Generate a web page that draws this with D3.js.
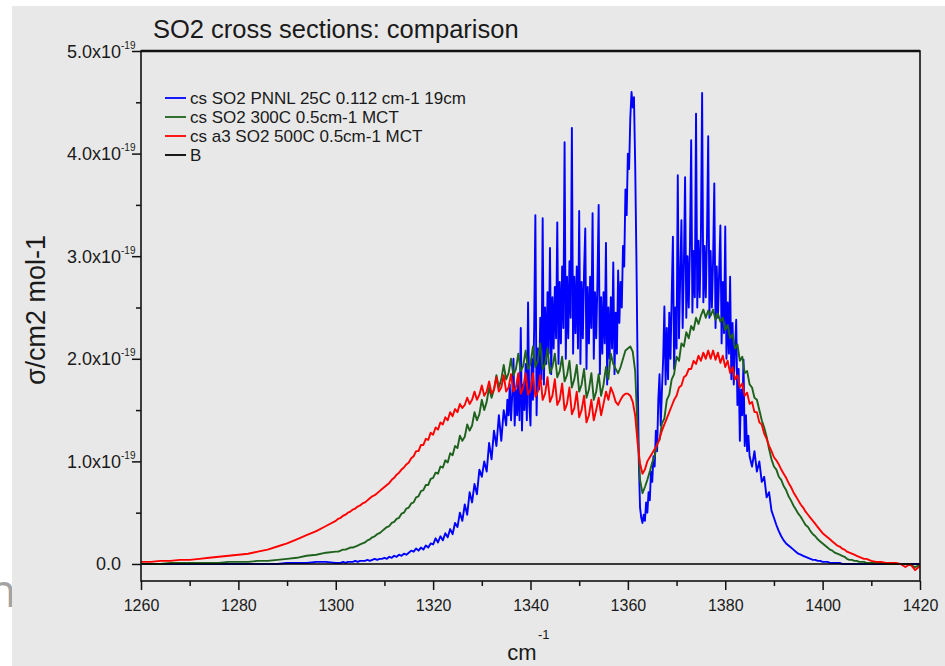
<!DOCTYPE html>
<html>
<head>
<meta charset="utf-8">
<script src="https://cdnjs.cloudflare.com/ajax/libs/d3/7.8.5/d3.min.js"></script>
<style>
    body { margin: 0; background: #ffffff; }
    text { font-family: "Liberation Sans", Arial, sans-serif; fill: #1a1a1a; }
</style>
</head>
<body>
<svg id="chart" width="945" height="666"></svg>
<script>

//  cross sections are kept in units of 1e-19 cm2 mol-1

var chart_title = 'SO2 cross sections: comparison';

var series_names = [
    'cs SO2 PNNL 25C 0.112 cm-1 19cm',
    'cs SO2 300C 0.5cm-1 MCT',
    'cs a3 SO2 500C 0.5cm-1 MCT',
    'B'
];

var x_ticks = [1260, 1280, 1300, 1320, 1340, 1360, 1380, 1400, 1420];
var x_minor = [1270, 1290, 1310, 1330, 1350, 1370, 1390, 1410];
var y_ticks = [0, 1, 2, 3, 4, 5];
var y_tick_labels = ['0.0', '1.0', '2.0', '3.0', '4.0', '5.0'];
var y_minor = [0.5, 1.5, 2.5, 3.5, 4.5];

//  left tail, every 2 cm-1
var wn_left = [1260, 1262, 1264, 1266, 1268, 1270, 1272, 1274, 1276, 1278,
               1280, 1282, 1284, 1286, 1288, 1290, 1292, 1294, 1296, 1298];
var blue_left  = [0, 0, 0, 0, 0, 0, 0, 0, 0, 0, 0, 0, 0, 0, 0, 0.01, 0.01, 0.01, 0.02, 0.02];
var green_left = [0.00, 0.00, 0.00, 0.01, 0.01, 0.01, 0.01, 0.01, 0.01, 0.02,
                  0.02, 0.02, 0.03, 0.03, 0.04, 0.05, 0.06, 0.08, 0.09, 0.11];
var red_left   = [0.02, 0.02, 0.03, 0.03, 0.04, 0.04, 0.05, 0.06, 0.07, 0.08,
                  0.09, 0.10, 0.12, 0.14, 0.17, 0.20, 0.24, 0.28, 0.32, 0.37];

//  blue (PNNL) is resolved finer: 1300-1334.5 every 0.5, 1335-1384.75 every 0.25, 1385-1410 every 0.5
var blue_low = [
    0.01, 0.01, 0.01, 0.02, 0.01, 0.02, 0.02, 0.02, 0.03, 0.02,
    0.03, 0.03, 0.03, 0.04, 0.03, 0.04, 0.05, 0.04, 0.05, 0.05,
    0.06, 0.05, 0.07, 0.06, 0.08, 0.07, 0.09, 0.08, 0.10, 0.09,
    0.11, 0.13, 0.12, 0.15, 0.13, 0.16, 0.14, 0.18, 0.16, 0.20,
    0.19, 0.25, 0.21, 0.27, 0.23, 0.30, 0.26, 0.34, 0.29, 0.40,
    0.36, 0.50, 0.42, 0.58, 0.48, 0.70, 0.60, 0.78, 0.68, 0.92,
    0.85, 1.00, 0.90, 1.18, 1.02, 1.30, 1.15, 1.45, 1.20, 1.50
];

var blue_core = [
    1.35, 1.60, 1.45, 1.75, 1.40, 1.65, 2.00, 1.35, 1.70, 1.45,
    1.80, 1.40, 2.30, 1.30, 1.75, 1.50, 1.95, 1.40, 2.55, 1.55,
    1.35, 2.00, 1.60, 2.30, 3.40, 1.45, 2.10, 1.70, 2.40, 1.80,
    3.37, 1.75, 2.50, 1.95, 2.65, 2.05, 3.08, 1.85, 2.60, 2.10,
    2.70, 2.20, 3.33, 1.95, 2.75, 2.15, 2.90, 2.30, 4.11, 2.00,
    2.80, 2.20, 2.95, 2.40, 4.25, 2.05, 2.80, 2.25, 2.90, 2.10,
    3.44, 1.95, 2.75, 2.20, 2.85, 3.27, 1.90, 2.70, 2.15, 2.80,
    2.30, 3.42, 2.00, 2.65, 2.20, 2.75, 3.50, 1.85, 2.60, 2.05,
    2.65, 2.15, 3.13, 1.75, 2.50, 2.00, 2.60, 2.10, 2.94, 1.85,
    2.45, 2.05, 2.86, 2.35, 2.75, 2.50, 3.10, 2.90, 3.65, 3.40,
    4.00, 3.85, 4.35, 4.60, 4.45, 4.55, 3.90, 3.00, 1.90, 1.00,
    0.55, 0.45, 0.40, 0.48, 0.42, 0.60, 0.50, 0.70, 0.62, 0.90,
    0.80, 1.05, 0.95, 1.30, 1.10, 1.60, 1.85, 1.35, 1.70, 2.00,
    2.51, 1.75, 2.30, 1.80, 2.45, 2.00, 2.60, 3.19, 1.90, 2.50,
    2.10, 3.79, 2.20, 2.80, 3.35, 2.30, 2.90, 3.77, 2.40, 3.00,
    2.50, 3.10, 4.13, 2.45, 3.05, 2.60, 4.39, 2.50, 3.15, 2.60,
    3.20, 4.59, 2.55, 3.10, 2.60, 3.20, 4.17, 2.40, 3.05, 2.50,
    2.95, 3.71, 2.30, 2.90, 2.40, 2.85, 3.30, 2.15, 2.75, 2.25,
    3.29, 2.00, 2.55, 2.05, 2.80, 1.80, 2.35, 1.75, 2.10, 2.38,
    1.55, 1.90, 1.20, 1.70, 1.45, 1.99, 1.15, 1.45, 1.10, 1.25
];

var blue_high = [
    1.05, 0.95, 1.10, 0.90, 1.00, 0.80, 0.85, 0.65, 0.70, 0.52,
    0.45, 0.38, 0.32, 0.27, 0.23, 0.20, 0.18, 0.16, 0.14, 0.12,
    0.10, 0.09, 0.08, 0.07, 0.06, 0.05, 0.04, 0.04, 0.03, 0.03,
    0.02, 0.02, 0.02, 0.01, 0.01, 0.01, 0.01, 0.01, 0.00, 0.00,
    0.00, 0.00, 0.00, 0.00, 0.00, 0.00, 0.00, 0.00, 0.00, 0.00,
    0.00
];

//  green and red: 1300 to 1410 every 0.5 cm-1 (10 values = 5 cm-1 per row)
var green_mid = [
    0.12, 0.12, 0.13, 0.14, 0.14, 0.15, 0.16, 0.16, 0.17, 0.18,
    0.19, 0.20, 0.21, 0.23, 0.24, 0.26, 0.27, 0.29, 0.30, 0.32,
    0.34, 0.36, 0.37, 0.40, 0.41, 0.44, 0.45, 0.49, 0.50, 0.54,
    0.55, 0.59, 0.60, 0.65, 0.66, 0.71, 0.72, 0.77, 0.77, 0.83,
    0.84, 0.89, 0.88, 0.95, 0.94, 1.01, 0.99, 1.08, 1.06, 1.15,
    1.13, 1.25, 1.20, 1.24, 1.36, 1.30, 1.35, 1.48, 1.40, 1.46,
    1.60, 1.50, 1.58, 1.72, 1.62, 1.70, 1.84, 1.72, 1.80, 1.94,
    1.80, 1.86, 2.00, 1.84, 1.90, 2.05, 1.88, 1.93, 2.08, 1.90,
    1.95, 2.12, 1.92, 1.98, 2.15, 1.90, 1.95, 2.10, 1.86, 1.92,
    2.05, 1.82, 1.88, 2.02, 1.78, 1.84, 1.98, 1.72, 1.80, 1.94,
    1.68, 1.75, 1.90, 1.62, 1.70, 1.86, 1.60, 1.68, 1.85, 1.64,
    1.75, 1.92, 1.80, 2.05, 1.95, 1.90, 1.86, 1.92, 2.00, 2.08,
    2.10, 2.12, 2.07, 1.88, 1.30, 0.82, 0.69, 0.75, 0.82, 0.90,
    0.99, 1.05, 1.17, 1.21, 1.37, 1.42, 1.60, 1.65, 1.80, 1.85,
    2.02, 1.98, 2.15, 2.12, 2.26, 2.20, 2.32, 2.28, 2.40, 2.34,
    2.42, 2.48, 2.40, 2.47, 2.42, 2.48, 2.38, 2.44, 2.36, 2.40,
    2.28, 2.33, 2.20, 2.24, 2.10, 2.14, 1.98, 2.02, 1.86, 1.88,
    1.75, 1.72, 1.62, 1.60, 1.50, 1.40, 1.33, 1.24, 1.12, 1.02,
    0.95, 0.92, 0.85, 0.82, 0.76, 0.72, 0.66, 0.62, 0.57, 0.53,
    0.49, 0.46, 0.42, 0.38, 0.36, 0.32, 0.29, 0.27, 0.24, 0.22,
    0.20, 0.18, 0.16, 0.14, 0.13, 0.11, 0.10, 0.09, 0.08, 0.07,
    0.05, 0.04, 0.04, 0.03, 0.03, 0.02, 0.02, 0.02, 0.01, 0.01,
    0.01
];

var red_mid = [
    0.42, 0.44, 0.45, 0.47, 0.48, 0.50, 0.51, 0.53, 0.54, 0.56,
    0.57, 0.59, 0.60, 0.62, 0.64, 0.66, 0.67, 0.69, 0.71, 0.73,
    0.75, 0.77, 0.79, 0.82, 0.84, 0.87, 0.89, 0.92, 0.94, 0.97,
    0.99, 1.03, 1.05, 1.10, 1.10, 1.16, 1.16, 1.22, 1.21, 1.28,
    1.26, 1.33, 1.31, 1.38, 1.36, 1.43, 1.40, 1.48, 1.44, 1.51,
    1.48, 1.56, 1.52, 1.55, 1.62, 1.56, 1.60, 1.68, 1.60, 1.65,
    1.74, 1.64, 1.68, 1.78, 1.66, 1.70, 1.82, 1.68, 1.72, 1.84,
    1.68, 1.72, 1.85, 1.68, 1.72, 1.86, 1.66, 1.72, 1.86, 1.65,
    1.70, 1.86, 1.63, 1.68, 1.84, 1.60, 1.66, 1.82, 1.58, 1.64,
    1.80, 1.55, 1.60, 1.76, 1.50, 1.56, 1.72, 1.46, 1.52, 1.68,
    1.43, 1.50, 1.64, 1.38, 1.45, 1.60, 1.40, 1.50, 1.62, 1.45,
    1.56, 1.68, 1.60, 1.72, 1.66, 1.58, 1.55, 1.60, 1.64, 1.66,
    1.66, 1.64, 1.58, 1.45, 1.18, 0.98, 0.88, 0.92, 1.00, 1.04,
    1.08, 1.12, 1.16, 1.22, 1.30, 1.36, 1.42, 1.48, 1.54, 1.60,
    1.64, 1.72, 1.74, 1.82, 1.84, 1.90, 1.90, 1.98, 1.95, 2.03,
    1.98, 2.06, 2.00, 2.08, 2.00, 2.08, 1.99, 2.06, 1.96, 2.03,
    1.92, 1.98, 1.86, 1.92, 1.80, 1.84, 1.72, 1.76, 1.64, 1.67,
    1.56, 1.58, 1.48, 1.48, 1.38, 1.36, 1.27, 1.22, 1.15, 1.10,
    1.04, 1.01, 0.97, 0.92, 0.88, 0.84, 0.79, 0.75, 0.70, 0.66,
    0.62, 0.58, 0.55, 0.51, 0.48, 0.45, 0.42, 0.39, 0.36, 0.33,
    0.30, 0.28, 0.26, 0.24, 0.22, 0.20, 0.18, 0.17, 0.15, 0.14,
    0.12, 0.11, 0.10, 0.09, 0.08, 0.07, 0.06, 0.05, 0.05, 0.04,
    0.03
];

//  right tail, every 1 cm-1
var wn_right = [1411, 1412, 1413, 1414, 1415, 1416, 1417, 1418, 1419, 1420];
var blue_right  = [0, 0, 0, 0, 0, 0, 0, 0, 0, 0];
var green_right = [0.01, 0.01, 0.00, 0.00, 0.00, 0.00, 0.00, -0.01, -0.03, -0.01];
var red_right   = [0.02, 0.02, 0.01, 0.01, 0.01, 0.00, -0.03, 0.00, -0.06, -0.02];

//  baseline "B"
var wn_b = [1260, 1420];
var b_vals = [0, 0];


var colors = ['#0000ff', '#1e621e', '#ff0000', '#000000'];

var margin = { left : 141, top : 51, right : 920, bottom : 581 };

var svg = d3.select('#chart');

var x = d3.scaleLinear().domain([1260, 1420]).range([margin.left, margin.right]);
var y = d3.scaleLinear().domain([-0.166, 5.0]).range([margin.bottom, margin.top]);


//  glue the pieces of one spectrum together; a piece is either explicit
//  wavenumbers or a start/step sampling grid
function buildSeries(pieces) {

    var pts = [];

    pieces.forEach(function(p) {
        p.values.forEach(function(v, i) {
            var w = p.wn ? p.wn[i] : p.start + i * p.step;
            pts.push([w, v]);
        });
    });

    return pts;
}

var series = [
    buildSeries([
        { wn : wn_left, values : blue_left },
        { start : 1300, step : 0.5, values : blue_low },
        { start : 1335, step : 0.25, values : blue_core },
        { start : 1385, step : 0.5, values : blue_high },
        { wn : wn_right, values : blue_right }
    ]),
    buildSeries([
        { wn : wn_left, values : green_left },
        { start : 1300, step : 0.5, values : green_mid },
        { wn : wn_right, values : green_right }
    ]),
    buildSeries([
        { wn : wn_left, values : red_left },
        { start : 1300, step : 0.5, values : red_mid },
        { wn : wn_right, values : red_right }
    ]),
    buildSeries([ { wn : wn_b, values : b_vals } ])
];


//  cut-off letter peeking in at the left edge, then the grey panel over it
svg.append('text')
    .attr('x', -12)
    .attr('y', 607)
    .style('font-family', '"Open Sans", sans-serif')
    .style('font-size', '46px')
    .style('fill', '#a3a3a3')
    .text('n');

svg.append('rect')
    .attr('x', 12)
    .attr('y', 6)
    .attr('width', 945 - 12)
    .attr('height', 666 - 6)
    .attr('fill', '#e8e8e8');


svg.append('clipPath')
    .attr('id', 'plot-clip')
    .append('rect')
    .attr('x', margin.left)
    .attr('y', margin.top)
    .attr('width', margin.right - margin.left)
    .attr('height', margin.bottom - margin.top);

var line = d3.line()
    .x(function(d) { return x(d[0]); })
    .y(function(d) { return y(d[1]); });

svg.append('g')
    .attr('clip-path', 'url(#plot-clip)')
    .selectAll('path')
    .data(series)
    .enter()
    .append('path')
    .attr('d', line)
    .attr('fill', 'none')
    .attr('stroke', function(d, i) { return colors[i]; })
    .attr('stroke-width', function(d, i) { return i == 3 ? 1.6 : 1.9; })
    .attr('stroke-linejoin', 'round');


//  axes

var y_axis = svg.append('g')
    .attr('transform', 'translate(' + margin.left + ',0)')
    .call(d3.axisLeft(y).tickValues(y_ticks).tickSize(9).tickFormat(''));

svg.append('g')
    .attr('transform', 'translate(' + margin.left + ',0)')
    .call(d3.axisLeft(y).tickValues(y_minor).tickSize(5).tickFormat(''));

var x_axis = svg.append('g')
    .attr('transform', 'translate(0,' + margin.bottom + ')')
    .call(d3.axisBottom(x).tickValues(x_ticks).tickSize(9).tickPadding(10).tickFormat(d3.format('d')));

svg.append('g')
    .attr('transform', 'translate(0,' + margin.bottom + ')')
    .call(d3.axisBottom(x).tickValues(x_minor).tickSize(5).tickFormat(''));

svg.selectAll('.domain').remove();
svg.selectAll('.tick line').attr('stroke', '#111').attr('stroke-width', 1.5);

x_axis.selectAll('.tick text')
    .style('font-size', '16px')
    .style('fill', '#1a1a1a');

//  y tick labels with the x10^-19 exponent
y_axis.selectAll('.tick').each(function(d, i) {

    var g = d3.select(this);

    g.append('text')
        .attr('x', -20)
        .attr('y', 6)
        .attr('text-anchor', 'end')
        .style('font-size', '18px')
        .text(d == 0 ? y_tick_labels[i] : y_tick_labels[i] + 'x10');

    if (d != 0) {
        g.append('text')
            .attr('x', -20)
            .attr('y', -3)
            .attr('text-anchor', 'start')
            .style('font-size', '10px')
            .text('-19');
    }
});


//  frame
svg.append('rect')
    .attr('x', margin.left)
    .attr('y', margin.top)
    .attr('width', margin.right - margin.left)
    .attr('height', margin.bottom - margin.top)
    .attr('fill', 'none')
    .attr('stroke', '#111')
    .attr('stroke-width', 1.6);

svg.append('line')
    .attr('x1', margin.left)
    .attr('x2', margin.right)
    .attr('y1', margin.top)
    .attr('y2', margin.top)
    .attr('stroke', '#111')
    .attr('stroke-width', 2.4);


//  titles

svg.append('text')
    .attr('x', 153)
    .attr('y', 38)
    .style('font-size', '25.5px')
    .text(chart_title);

svg.append('text')
    .attr('transform', 'translate(45,310) rotate(-90)')
    .attr('text-anchor', 'middle')
    .style('font-size', '27px')
    .text('\u03c3/cm2 mol-1');

svg.append('text')
    .attr('x', 522)
    .attr('y', 660)
    .attr('text-anchor', 'middle')
    .style('font-size', '22px')
    .text('cm');

svg.append('text')
    .attr('x', 538)
    .attr('y', 639)
    .style('font-size', '13px')
    .text('-1');


//  legend

var legend = svg.append('g')
    .selectAll('g')
    .data(series_names)
    .enter()
    .append('g')
    .attr('transform', function(d, i) { return 'translate(165,' + (98 + i * 19) + ')'; });

legend.append('line')
    .attr('x1', 0)
    .attr('x2', 21)
    .attr('stroke', function(d, i) { return colors[i]; })
    .attr('stroke-width', 1.8);

legend.append('text')
    .attr('x', 25)
    .attr('y', 6)
    .style('font-size', '17px')
    .text(function(d) { return d; });

</script>
</body>
</html>
